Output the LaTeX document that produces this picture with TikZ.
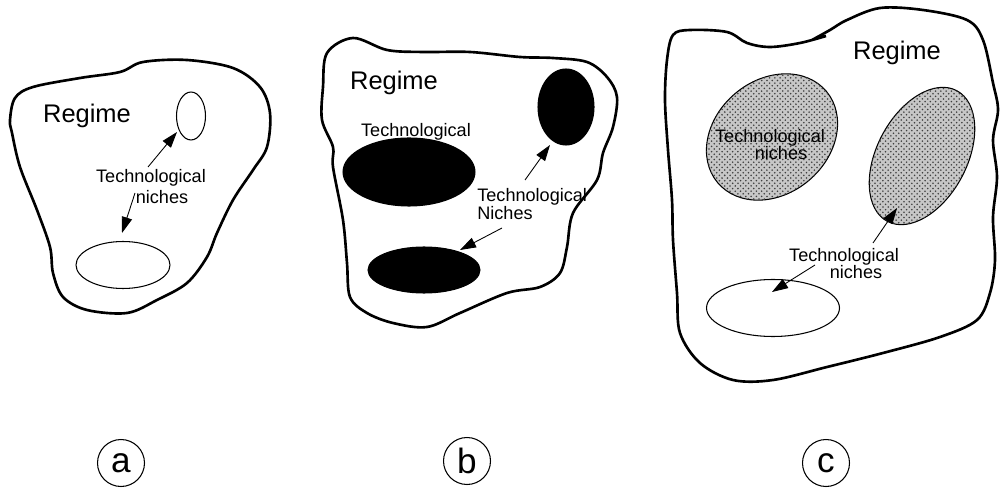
\documentclass[tikz,border=0pt]{standalone}
\usepackage{fontspec}
\setmainfont{Liberation Sans}
\usetikzlibrary{shapes.geometric,arrows.meta,patterns}
\begin{document}
\begin{tikzpicture}[x=0.02cm,y=-0.02cm,
  outline/.style={line width=1.5pt, line join=round},
  niche/.style={ellipse, draw, line width=0.6pt, inner sep=0pt},
  dark/.style={niche, fill=black},
  stip/.style={niche, fill=black!22, postaction={pattern=crosshatch dots, pattern color=black!75}},
  regime/.style={font=\fontsize{14.5}{17}\selectfont, anchor=base, inner sep=0pt},
  lbl/.style={font=\fontsize{10.3}{12}\selectfont, anchor=base, inner sep=0pt},
  arr/.style={line width=0.5pt, -{Triangle[length=3.2mm,width=2.1mm]}},
  tag/.style={ellipse, draw, line width=0.6pt, minimum width=0.94cm, minimum height=0.94cm, inner sep=0pt, font=\fontsize{20}{24}\selectfont}
]
\useasboundingbox (0,0) rectangle (1000,489);

% ---------- panel a ----------
\draw[outline] plot[smooth cycle, tension=0.55] coordinates {
 (10,120) (15,98) (33,87) (80,78) (120,72) (143,62) (187,60) (233,68) (260,87)
 (270,113) (267,147) (253,170) (233,200) (217,233) (207,257) (187,283) (157,300)
 (127,313) (87,310) (63,297) (53,273) (50,247) (37,210) (20,167) (12,133)};
\node[regime] (ra) at (87,123) {Regime};
\node[niche, minimum width=0.58cm, minimum height=0.96cm] (ea1) at (191,116) {};
\node[niche, minimum width=1.88cm, minimum height=0.94cm] (ea2) at (123,265) {};
\node[lbl] (ta1) at (151,183) {Technological};
\node[lbl] (ta2) at (162,204) {niches};
\coordinate (a1s) at (148,167); \coordinate (a1t) at (177,132);
\coordinate (a2s) at (135,193); \coordinate (a2t) at (122,233);
\draw[arr] (a1s) -- (a1t);
\draw[arr] (a2s) -- (a2t);

% ---------- panel b ----------
\draw[outline] plot[smooth cycle, tension=0.55] coordinates {
 (327,53) (353,38) (387,50) (423,52) (470,52) (520,57) (553,58) (587,62) (607,77)
 (617,97) (613,127) (603,153) (597,180) (573,213) (567,247) (560,273) (540,287)
 (507,293) (460,313) (427,327) (393,323) (367,313) (350,297) (347,263) (343,220)
 (333,167) (333,147) (322,120) (323,87)};
\node[regime] (rb) at (394,90) {Regime};
\node[lbl] (tb0) at (416,137) {Technological};
\node[dark, minimum width=1.12cm, minimum height=1.52cm] (eb1) at (566,107) {};
\node[dark, minimum width=2.64cm, minimum height=1.36cm] (eb2) at (409,172) {};
\node[dark, minimum width=2.24cm, minimum height=0.92cm] (eb3) at (424,270) {};
\node[lbl, anchor=base west] (tb1) at (477,202) {Technological};
\node[lbl, anchor=base west] (tb2) at (477,220) {Niches};
\coordinate (b1s) at (525,180); \coordinate (b1t) at (550,145);
\coordinate (b2s) at (502,228); \coordinate (b2t) at (460,250);
\draw[arr] (b1s) -- (b1t);
\draw[arr] (b2s) -- (b2t);

% ---------- panel c ----------
\draw[outline] plot[smooth, tension=0.55] coordinates {
 (812,40) (830,30) (847,20) (880,8) (923,10) (967,20) (983,40) (993,83) (998,110)
 (993,140) (997,177) (993,217) (995,260) (990,293) (977,320) (940,337) (883,353)
 (827,367) (773,380) (733,380) (700,363) (680,333) (677,293) (673,240) (672,200)
 (668,150) (665,100) (667,60) (673,35) (690,30) (727,32) (747,43) (770,47)
 (800,43) (826,36)};
\node[regime] (rc) at (897,60) {Regime};
\node[stip, minimum width=2.84cm, minimum height=2.28cm, rotate=40] (ec1) at (772,137) {};
\node[stip, minimum width=2.96cm, minimum height=1.8cm, rotate=62] (ec2) at (922,156) {};
\node[niche, minimum width=2.66cm, minimum height=1.14cm] (ec3) at (773,308) {};
\node[lbl] (tc1) at (770,143) {Technological};
\node[lbl] (tc2) at (781,160) {niches};
\node[lbl] (tc3) at (844,262) {Technological};
\node[lbl] (tc4) at (856,279) {niches};
\coordinate (c1s) at (873,243); \coordinate (c1t) at (897,208);
\coordinate (c2s) at (815,265); \coordinate (c2t) at (772,292);
\draw[arr] (c1s) -- (c1t);
\draw[arr] (c2s) -- (c2t);

% ---------- tags ----------
\node[tag] (la) at (121,463) {a};
\node[tag] (lb) at (467,461) {b};
\node[tag] (lc) at (826,463) {c};
\end{tikzpicture}
\end{document}
